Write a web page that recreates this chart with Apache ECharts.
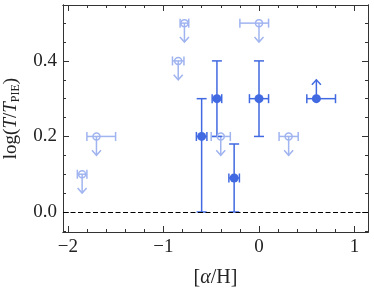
<!DOCTYPE html>
<html><head><meta charset="utf-8">
<script src="https://cdn.jsdelivr.net/npm/echarts@6/dist/echarts.min.js"></script>
<style>html,body{margin:0;padding:0;background:#fff}#c{width:374px;height:288px}</style>
</head><body><div id="c"></div>
<script>
// ---- data ----
// detections (filled markers)
const detX    = [-0.60, -0.44, -0.26, 0.00, 0.60];
const detY    = [0.20, 0.30, 0.09, 0.30, 0.30];
const detXLo  = [0.055, 0.05, 0.055, 0.10, 0.10];
const detXHi  = [0.055, 0.05, 0.055, 0.10, 0.20];
const detYLo  = [0.20, 0.10, 0.09, 0.10, 0];
const detYHi  = [0.10, 0.10, 0.09, 0.10, 0];
const detLowerLimit = [0, 0, 0, 0, 0.05];   // arrow up length
// upper limits (open markers)
const limX    = [-0.78, -0.845, -1.70, -1.85, -0.40, 0.00, 0.31];
const limY    = [0.50, 0.40, 0.20, 0.10, 0.20, 0.50, 0.20];
const limXLo  = [0.045, 0.06, 0.10, 0.05, 0.10, 0.20, 0.10];
const limXHi  = [0.045, 0.06, 0.20, 0.05, 0.10, 0.10, 0.10];
const limUpper = [0.05, 0.05, 0.05, 0.05, 0.05, 0.05, 0.05]; // arrow down length
// axes
const xMajor = [-2, -1, 0, 1];
const xMinor = [-1.8,-1.6,-1.4,-1.2,-0.8,-0.6,-0.4,-0.2,0.2,0.4,0.6,0.8];
const yMajor = [0, 0.2, 0.4];
const yMinor = [-0.05,0.05,0.1,0.15,0.25,0.3,0.35,0.45,0.5];
const XMIN = -2.05, XMAX = 1.14, YMIN = -0.053, YMAX = 0.548;
const refLineY = 0;

const DARK = '#4169e1', LIGHT = '#a0b4f0', FRAME = '#333';
const FONT = 'Liberation Serif';

const detData = detX.map((x,i)=>[x, detY[i], detXLo[i], detXHi[i], detYLo[i], detYHi[i], 0, detLowerLimit[i]]);
const limData = limX.map((x,i)=>[x, limY[i], limXLo[i], limXHi[i], 0, 0, limUpper[i], 0]);

function makeRender(color){
  return function(params, api){
    const x = api.value(0), y = api.value(1);
    const xl = api.value(2), xh = api.value(3), yl = api.value(4), yh = api.value(5);
    const dn = api.value(6), up = api.value(7);
    const c = api.coord([x,y]);
    const cap = 4.5;
    const st = {stroke: color, lineWidth: 1.5, fill: null};
    const ch = [];
    const line = (x1,y1,x2,y2)=>ch.push({type:'line', shape:{x1,y1,x2,y2}, style:st});
    if (xl || xh) {
      const a = api.coord([x-xl,y]), b = api.coord([x+xh,y]);
      line(a[0],a[1],b[0],b[1]);
      line(a[0],a[1]-cap,a[0],a[1]+cap);
      line(b[0],b[1]-cap,b[0],b[1]+cap);
    }
    if (yl || yh) {
      const a = api.coord([x,y-yl]), b = api.coord([x,y+yh]);
      line(a[0],a[1],b[0],b[1]);
      line(a[0]-cap-0.5,a[1],a[0]+cap+0.5,a[1]);
      line(b[0]-cap-0.5,b[1],b[0]+cap+0.5,b[1]);
    }
    if (dn) {
      const t = api.coord([x,y-dn]);
      line(c[0],c[1],t[0],t[1]);
      ch.push({type:'polyline', shape:{points:[[t[0]-4.5,t[1]-5],[t[0],t[1]],[t[0]+4.5,t[1]-5]]}, style:st});
    }
    if (up) {
      const t = api.coord([x,y+up]);
      line(c[0],c[1],t[0],t[1]);
      ch.push({type:'polyline', shape:{points:[[t[0]-4.5,t[1]+5],[t[0],t[1]],[t[0]+4.5,t[1]+5]]}, style:st});
    }
    return {type:'group', children: ch};
  };
}

function xAx(pos, ticks, len, labels, extra){
  return Object.assign({
    type:'value', position: pos, min: XMIN, max: XMAX, gridIndex:0,
    axisLine:{show:true, onZero:false, lineStyle:{color:FRAME, width:1}},
    axisTick:{show:true, inside:true, length:len, customValues:ticks, lineStyle:{color:FRAME, width:1}},
    axisLabel:{show:labels, customValues:ticks, margin:6, fontFamily:FONT, fontSize:19, color:'#222',
      formatter: v => (v<0?'\u2212':'') + Math.abs(v)},
    splitLine:{show:false}
  }, extra||{});
}
function yAx(pos, ticks, len, labels, extra){
  return Object.assign({
    type:'value', position: pos, min: YMIN, max: YMAX, gridIndex:0,
    axisLine:{show:true, onZero:false, lineStyle:{color:FRAME, width:1}},
    axisTick:{show:true, inside:true, length:len, customValues:ticks, lineStyle:{color:FRAME, width:1}},
    axisLabel:{show:labels, customValues:ticks, margin:6, fontFamily:FONT, fontSize:19, color:'#222',
      formatter: v => v.toFixed(1)},
    splitLine:{show:false}
  }, extra||{});
}

const chart = echarts.init(document.getElementById('c'), null, {renderer:'canvas'});
chart.setOption({
  animation:false,
  backgroundColor:'#fff',
  grid:{left:63, right:6, top:5, bottom:56, containLabel:false, outerBoundsMode:'none'},
  xAxis:[
    xAx('bottom', xMajor, 6, true, {
      name:'{n|[}{i|α}{n|/H]}', nameLocation:'middle', nameGap:36,
      nameTextStyle:{fontFamily:FONT, fontSize:20, color:'#222',
        rich:{n:{fontFamily:FONT, fontSize:20, color:'#222'}, i:{fontFamily:FONT, fontSize:20, fontStyle:'italic', color:'#222'}}}
    }),
    xAx('bottom', xMinor, 3, false),
    xAx('top', xMajor, 6, false),
    xAx('top', xMinor, 3, false)
  ],
  yAxis:[
    yAx('left', yMajor, 6, true, {
      name:'{n|log(}{i|T}{n|/}{i|T}{s|PIE}{n|)}', nameLocation:'middle', nameGap:40, nameRotate:90,
      nameTextStyle:{fontFamily:FONT, fontSize:19, color:'#222',
        rich:{n:{fontFamily:FONT, fontSize:19, color:'#222', lineHeight:24},
              i:{fontFamily:FONT, fontSize:19, fontStyle:'italic', color:'#222', lineHeight:24},
              s:{fontFamily:FONT, fontSize:12, color:'#222', lineHeight:24, padding:[10,0,0,0]}}}
    }),
    yAx('left', yMinor, 3, false),
    yAx('right', yMajor, 6, false),
    yAx('right', yMinor, 3, false)
  ],
  series:[
    {type:'custom', xAxisIndex:0, yAxisIndex:0, renderItem: makeRender(LIGHT), data: limData, z:2, clip:false},
    {type:'custom', xAxisIndex:0, yAxisIndex:0, renderItem: makeRender(DARK), data: detData, z:3, clip:false},
    {type:'scatter', xAxisIndex:0, yAxisIndex:0, data: limX.map((x,i)=>[x,limY[i]]), symbol:'circle', symbolSize:7,
      itemStyle:{color:'rgba(0,0,0,0)', borderColor:LIGHT, borderWidth:1.5, opacity:1}, z:4, silent:true},
    {type:'scatter', xAxisIndex:0, yAxisIndex:0, data: detX.map((x,i)=>[x,detY[i]]), symbol:'circle', symbolSize:9,
      itemStyle:{color:DARK, opacity:1}, z:5, silent:true,
      markLine:{silent:true, symbol:['none','none'], label:{show:false}, z:6,
        lineStyle:{color:'#000', type:[5,2.5], width:1.2},
        data:[{yAxis: refLineY}]}}
  ]
});
</script></body></html>
